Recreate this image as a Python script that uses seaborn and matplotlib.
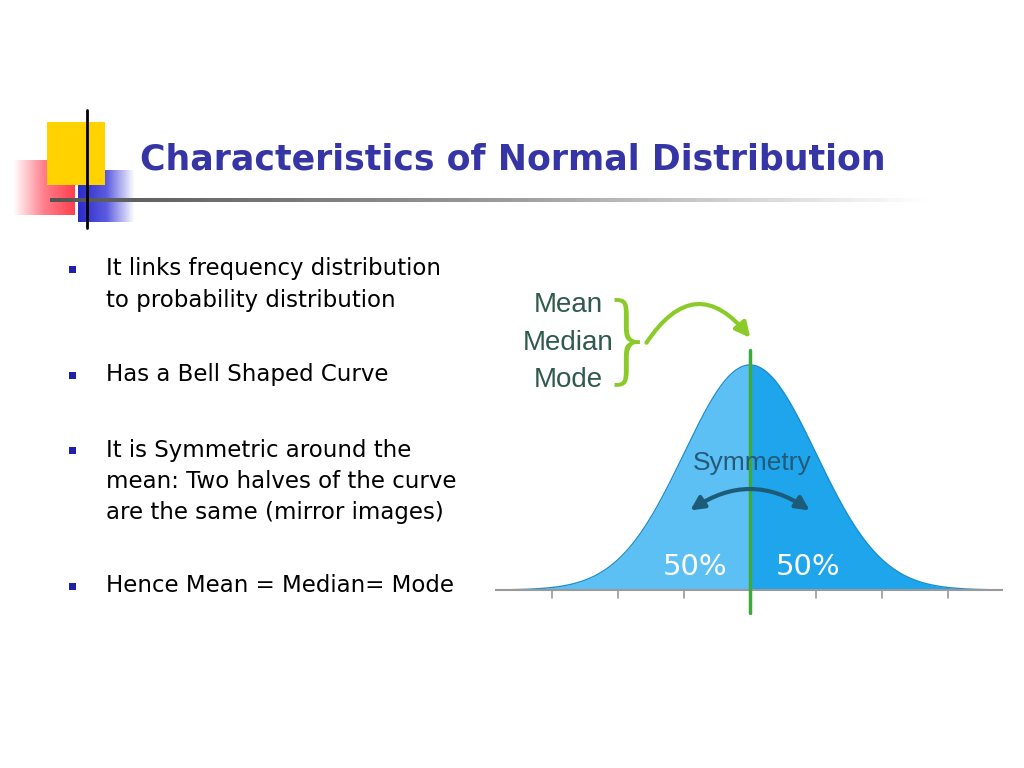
import numpy as np
import matplotlib.pyplot as plt
import seaborn as sns
from matplotlib.colors import LinearSegmentedColormap
from matplotlib.patches import Rectangle

sns.set_style("white")
plt.rcParams['font.family'] = ['DejaVu Sans']

# slide content
title = "Characteristics of Normal Distribution"
bullets = [
    ["It links frequency distribution", "to probability distribution"],
    ["Has a Bell Shaped Curve"],
    ["It is Symmetric around the", "mean: Two halves of the curve", "are the same (mirror images)"],
    ["Hence Mean = Median= Mode"],
]
bullet_y = [269, 375, 450, 586]
center_labels = ["Mean", "Median", "Mode"]
half_labels = ["50%", "50%"]

# normal curve parameters
mean, sd = 0.0, 1.0
sigma_ticks = [-3, -2, -1, 1, 2, 3]
x = np.linspace(-3.86, 3.83, 400)
dens = np.exp(-0.5 * ((x - mean) / sd) ** 2) / (sd * np.sqrt(2 * np.pi))

W, H = 1024, 768
fig = plt.figure(figsize=(10.24, 7.68), dpi=100)

# curve axes: x px = 750 + 66*x, baseline at y=590, peak at y=365
ax = fig.add_axes([495 / W, 1 - 615 / H, 508 / W, 275 / H])
ax.set_xlim(-3.864, 3.833)
ax.set_ylim(-0.0443, 0.4432)
left = x <= mean
ax.fill_between(x[left], 0, dens[left], color="#5cc0f5", lw=0)
ax.fill_between(x[~left], 0, dens[~left], color="#1ea5ec", lw=0)
sns.lineplot(x=x, y=dens, ax=ax, color="#1a8fd0", lw=1)
ax.axhline(0, color="#9a9a9a", lw=1.5)
for t in sigma_ticks:
    ax.plot([t, t], [0, -0.014], color="#9a9a9a", lw=1.2)
ax.plot([mean, mean], [-0.04, 0.425], color="#3daa3d", lw=2.5)
ax.axis("off")

# overlay in pixel coordinates
ov = fig.add_axes([0, 0, 1, 1], facecolor="none")
ov.axis("off")

# decoration squares
ov.add_patch(Rectangle((47, 122), 58, 63, color="#ffd200", lw=0))
red = LinearSegmentedColormap.from_list("r", ["#ffffff", "#ff7080", "#ff2a3a"])
ov.imshow(np.linspace(0, 1, 50)[None, :], cmap=red, extent=(13, 75, 215, 160), aspect="auto", alpha=0.9)
blue = LinearSegmentedColormap.from_list("b", ["#2c2cc8", "#5b5be0", "#ffffff"])
ov.imshow(np.linspace(0, 1, 50)[None, :], cmap=blue, extent=(78, 135, 222, 170), aspect="auto")
gray = LinearSegmentedColormap.from_list("g", ["#555555", "#999999", "#ffffff"])
ov.imshow(np.linspace(0, 1, 200)[None, :], cmap=gray, extent=(50, 930, 202, 198), aspect="auto")
ov.plot([87, 87], [110, 228], color="black", lw=2)
ov.set_xlim(0, W)
ov.set_ylim(H, 0)

ov.text(140, 160, title, fontsize=25, fontweight="bold", color="#3535a5", va="center")

for lines, y in zip(bullets, bullet_y):
    ov.add_patch(Rectangle((69, y - 3), 7, 7, color="#2020b0", lw=0))
    for i, line in enumerate(lines):
        ov.text(106, y + i * 31, line, fontsize=16.5, color="black", va="center")

for lab, y in zip(center_labels, [305, 343, 380]):
    ov.text(568, y, lab, fontsize=20, color="#2f5a4c", ha="center", va="center",
            family="Liberation Sans", stretch="condensed")
ov.text(628, 343, "}", fontsize=70, color="#8acb2a", ha="center", va="center",
        fontweight="light")
ov.annotate("", xy=(752, 340), xytext=(645, 345),
            arrowprops=dict(arrowstyle="-|>", color="#8acb2a", lw=3,
                            connectionstyle="arc3,rad=-0.7", mutation_scale=22))

ov.text(752, 463, "Symmetry", fontsize=19, color="#245a78", ha="center", va="center",
        family="Liberation Sans")
ov.annotate("", xy=(812, 512), xytext=(688, 512),
            arrowprops=dict(arrowstyle="<|-|>", color="#1d5c78", lw=3,
                            connectionstyle="arc3,rad=-0.35", mutation_scale=20))
for lab, xp in zip(half_labels, [695, 808]):
    ov.text(xp, 567, lab, fontsize=21, color="white", ha="center", va="center")

fig.savefig("out.png", dpi=100)
